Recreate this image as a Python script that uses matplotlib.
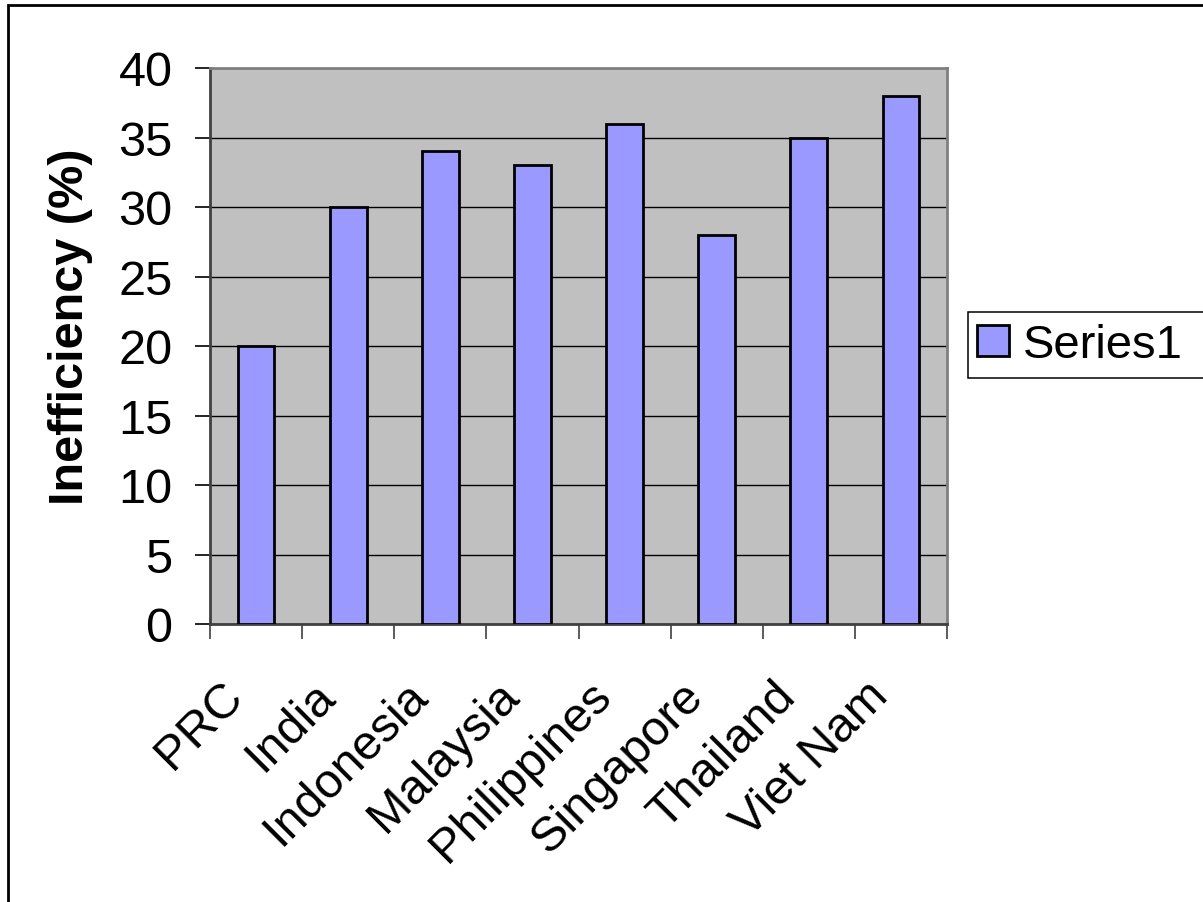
import matplotlib.pyplot as plt
from matplotlib.patches import Rectangle
from matplotlib.transforms import ScaledTranslation
import numpy as np

countries = ['PRC', 'India', 'Indonesia', 'Malaysia', 'Philippines',
             'Singapore', 'Thailand', 'Viet Nam']
inefficiency = [20, 30, 34, 33, 36, 28, 35, 38]
y_ticks = [0, 5, 10, 15, 20, 25, 30, 35, 40]

plt.rcParams['font.family'] = ['Liberation Sans', 'DejaVu Sans']

fig = plt.figure(figsize=(12.03, 9.03), dpi=100)
ax = fig.add_axes([210 / 1203, 1 - 625 / 903, 737 / 1203, 556 / 903])

# outer chart border (only left and top visible in the crop)
fig.patches.append(Rectangle((8 / 1203, -0.1), 1.2, 1 - 6 / 903 + 0.1,
                             transform=fig.transFigure, fill=False,
                             edgecolor='black', linewidth=2))

x = np.arange(len(countries))
ax.set_facecolor('#C0C0C0')
ax.bar(x, inefficiency, width=0.4, color='#9999FF', edgecolor='black',
       linewidth=2, label='Series1', zorder=3)

ax.set_xlim(-0.5, len(countries) - 0.5)
ax.set_ylim(0, 40)
ax.set_yticks(y_ticks)
ax.yaxis.grid(True, color='black', linewidth=1, zorder=1)

ax.set_xticks(x)
ax.set_xticklabels(countries, rotation=45, ha='right', rotation_mode='anchor')
ax.set_xticks(np.arange(len(countries) + 1) - 0.5, minor=True)
ax.tick_params(axis='x', which='major', length=0, labelsize=35, pad=22)
ax.tick_params(axis='x', which='minor', length=11, width=1.2, color='#404040')
ax.tick_params(axis='y', length=11, width=1.2, labelsize=35, pad=16)

# shift the slanted labels a bit left/down like the original
shift = ScaledTranslation(-0.36, -0.18, fig.dpi_scale_trans)
for lbl in ax.get_xticklabels():
    lbl.set_transform(lbl.get_transform() + shift)

for side in ['top', 'right']:
    ax.spines[side].set_color('#808080')
    ax.spines[side].set_linewidth(2)
ax.spines['left'].set_color('#404040')
ax.spines['bottom'].set_color('#404040')
ax.spines['left'].set_linewidth(2)
ax.spines['bottom'].set_linewidth(2)

ax.set_ylabel('Inefficiency (%)', fontsize=35, fontweight='bold')
ax.yaxis.set_label_coords(-0.159, 0.536)

# legend box runs off the right edge in the original, so draw its frame by hand
fig.patches.append(Rectangle((968 / 1203, 1 - 379 / 903), 0.3, 66 / 903,
                             transform=fig.transFigure, facecolor='white',
                             edgecolor='black', linewidth=1.1, zorder=4))
leg = fig.legend(loc='center left', bbox_to_anchor=(968 / 1203, 1 - 346 / 903),
                 fontsize=34, handlelength=0.66, handleheight=0.66,
                 handletextpad=0.3, borderpad=0.2, borderaxespad=0,
                 frameon=False)
leg.set_zorder(5)

plt.savefig('out.png', dpi=100)
